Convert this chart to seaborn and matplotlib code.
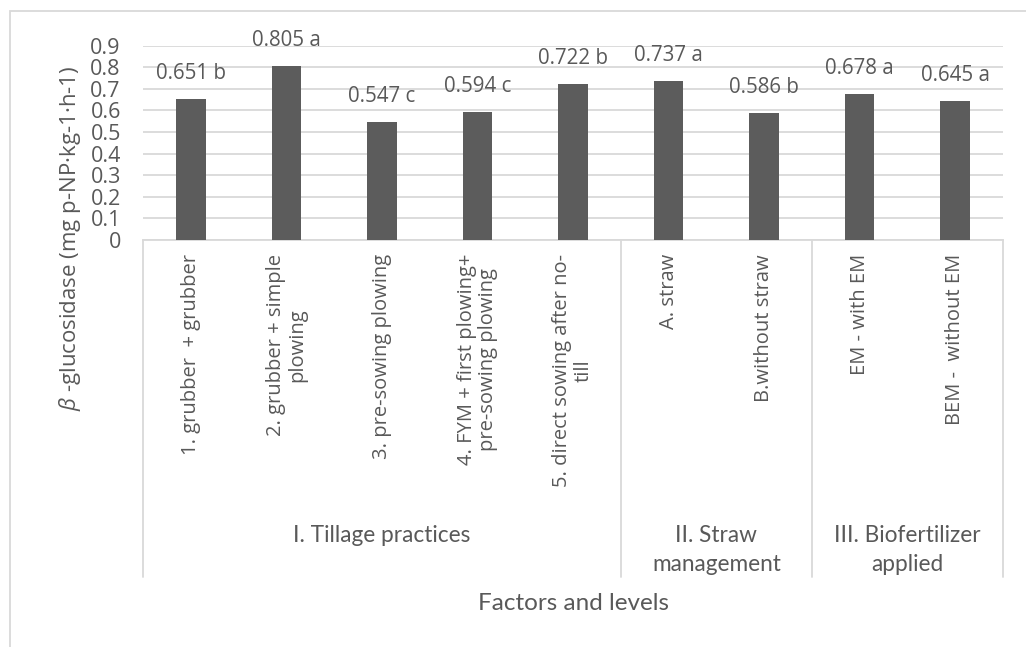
import matplotlib
matplotlib.use("Agg")
import matplotlib.pyplot as plt
from matplotlib.lines import Line2D
from matplotlib.patches import Rectangle
import matplotlib.transforms as mtransforms
import seaborn as sns
import pandas as pd

# Level names (inner axis level) and their group (outer axis level)
levels = [
    "1. grubber  + grubber",
    "2. grubber + simple\nplowing",
    "3. pre-sowing plowing",
    "4. FYM + first plowing+\npre-sowing plowing",
    "5. direct sowing after no-\ntill",
    "A. straw",
    "B.without straw",
    "EM - with EM",
    "BEM -  without EM",
]
groups = ["I. Tillage practices", "II. Straw\nmanagement", "III. Biofertilizer\napplied"]
group_sizes = [5, 2, 2]
values = [0.651, 0.805, 0.547, 0.594, 0.722, 0.737, 0.586, 0.678, 0.645]
letters = ["b", "a", "c", "c", "b", "a", "b", "a", "a"]
yticks = [0, 0.1, 0.2, 0.3, 0.4, 0.5, 0.6, 0.7, 0.8, 0.9]

TEXT = "#595959"
GRID = "#d9d9d9"
BAR = "#5c5c5c"

sns.set_theme(style="white")
plt.rcParams["font.family"] = ["Open Sans", "DejaVu Sans"]
plt.rcParams["mathtext.fontset"] = "custom"
plt.rcParams["mathtext.it"] = "Open Sans:italic"

W, H = 1026, 647
fig = plt.figure(figsize=(W / 100, H / 100), dpi=100)
fig.patch.set_facecolor("white")

def fx(px):
    return px / W

def fy(py):
    return 1 - py / H

ax = fig.add_axes([fx(143), fy(240), fx(1003) - fx(143), fy(45.7) - fy(240)])

df = pd.DataFrame({"level": levels, "value": values})
sns.barplot(data=df, x="level", y="value", order=levels, color=BAR,
            saturation=1, width=0.31, ax=ax, zorder=3)
for p in ax.patches:
    p.set_edgecolor("none")

ax.set_xlim(-0.5, len(levels) - 0.5)
ax.set_ylim(0, 0.9)
ax.set_yticks(yticks)
ax.set_yticklabels([f"{t:g}" for t in yticks])
ax.tick_params(axis="y", length=0, pad=16, labelsize=15.5, labelcolor=TEXT)
ax.tick_params(axis="x", length=0, labelbottom=False)
ax.set_xlabel("")
ax.set_ylabel("")
ax.yaxis.grid(True, color=GRID, linewidth=1.3, zorder=0)
for s in ["left", "right", "top"]:
    ax.spines[s].set_visible(False)
ax.spines["bottom"].set_color(GRID)
ax.spines["bottom"].set_linewidth(1.3)

# value labels above bars
for i, (v, l) in enumerate(zip(values, letters)):
    ax.annotate(f"{v:.3f} {l}", xy=(i, v), xytext=(0, 20),
                textcoords="offset pixels", ha="center", va="baseline",
                fontsize=14.8, color=TEXT)

# multi-level category axis
tr = mtransforms.blended_transform_factory(ax.transData, fig.transFigure)
for i, lab in enumerate(levels):
    ax.text(i, fy(254), lab, transform=tr, rotation=90, ha="center", va="top",
            multialignment="center", fontsize=14.5, color=TEXT, linespacing=1.1)

edges = [-0.5]
for n in group_sizes:
    edges.append(edges[-1] + n)
for e in edges:
    ax.add_line(Line2D([e, e], [fy(240), fy(577)], transform=tr, color=GRID,
                       linewidth=1.3, clip_on=False))
for g, a, b in zip(groups, edges[:-1], edges[1:]):
    ax.text((a + b) / 2, fy(525), g, transform=tr, ha="center", va="top",
            multialignment="center", fontsize=16.3, color=TEXT,
            family=["Lato", "DejaVu Sans"], linespacing=1.45)

fig.text((fx(143) + fx(1003)) / 2, fy(603), "Factors and levels", ha="center",
         va="center", fontsize=17.5, color=TEXT, family=["Lato", "DejaVu Sans"])
fig.text(fx(70), fy(238), r"$\beta$ -glucosidase (mg p-NP·kg-1·h-1)",
         rotation=90, ha="center", va="center", fontsize=16, color=TEXT)

# chart frame
fig.patches.append(Rectangle((fx(10), -0.1), 1.2, fy(11) + 0.1,
                             transform=fig.transFigure, fill=False,
                             edgecolor=GRID, linewidth=1.3))

fig.savefig("out.png", dpi=100, facecolor="white")
